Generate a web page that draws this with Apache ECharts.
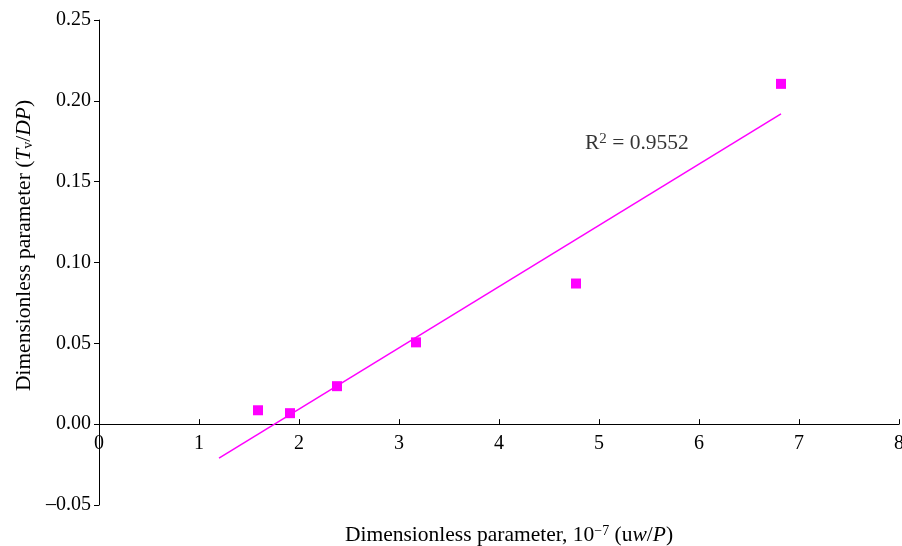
<!DOCTYPE html>
<html>
<head>
<meta charset="utf-8">
<script src="https://cdn.jsdelivr.net/npm/echarts@6/dist/echarts.min.js"></script>
<style>
  html, body { margin: 0; padding: 0; background: #fff; }
  #chart { width: 902px; height: 546px; }
</style>
</head>
<body>
<div id="chart"></div>
<script>
// measured points, x in 10^-7 (uw/P), y = Tv/DP
const xValues = [1.59, 1.91, 2.38, 3.17, 4.77, 6.82];
const yValues = [0.0086, 0.0068, 0.0235, 0.0506, 0.087, 0.2105];
// linear trend line ends
const trendX = [1.2, 6.82];
const trendY = [-0.021, 0.192];
const r2Text = "0.9552";
const r2Pos = [4.86, 0.174];

const FONT = "Liberation Serif";
const MAG = "#ff00ff";

const chart = echarts.init(document.getElementById("chart"));

const option = {
  animation: false,
  backgroundColor: "#fff",
  grid: { left: 99, right: 3, top: 20, bottom: 41, outerBoundsMode: "none", containLabel: false },
  xAxis: {
    type: "value",
    min: 0,
    max: 8,
    interval: 1,
    splitLine: { show: false },
    axisLine: { onZero: true, lineStyle: { color: "#000", width: 1 } },
    axisTick: { inside: true, length: 5, lineStyle: { color: "#000" } },
    // labels sit at the grid bottom in v6, pull them up under the zero line
    axisLabel: { color: "#000", fontFamily: FONT, fontSize: 20, margin: -71 },
    name: "Dimensionless parameter, 10{sup|−7} (u{it|w}/{it|P})",
    nameLocation: "middle",
    nameGap: 19,
    nameMoveOverlap: false,
    nameTextStyle: {
      color: "#000", fontFamily: FONT, fontSize: 21.5,
      padding: [0, 0, 0, 20],
      rich: {
        sup: { fontFamily: FONT, fontSize: 14, verticalAlign: "top", color: "#000", padding: [0, 0, 9, 0] },
        it: { fontFamily: FONT, fontSize: 21.5, fontStyle: "italic", color: "#000" }
      }
    }
  },
  yAxis: {
    type: "value",
    min: -0.05,
    max: 0.25,
    interval: 0.05,
    splitLine: { show: false },
    axisLine: { onZero: false, lineStyle: { color: "#000", width: 1 } },
    axisTick: { length: 5, lineStyle: { color: "#000" } },
    axisLabel: {
      color: "#000", fontFamily: FONT, fontSize: 20, margin: 8,
      formatter: v => (v < 0 ? "–" + Math.abs(v).toFixed(2) : v.toFixed(2))
    },
    name: "Dimensionless parameter ({it|T}{sub|v}/{it|DP})",
    nameLocation: "middle",
    nameGap: 64,
    nameTextStyle: {
      color: "#000", fontFamily: FONT, fontSize: 21.5,
      padding: [0, 0, 0, 34],
      rich: {
        it: { fontFamily: FONT, fontSize: 21.5, fontStyle: "italic", color: "#000" },
        sub: { fontFamily: FONT, fontSize: 14, verticalAlign: "bottom", color: "#000", padding: [7, 0, 0, 0] }
      }
    }
  },
  series: [
    {
      name: "trend",
      type: "line",
      data: trendX.map((x, i) => [x, trendY[i]]),
      symbol: "none",
      lineStyle: { color: MAG, width: 1.5 },
      z: 2
    },
    {
      name: "points",
      type: "scatter",
      data: xValues.map((x, i) => [x, yValues[i]]),
      symbol: "rect",
      symbolSize: 10,
      itemStyle: { color: MAG, opacity: 1 },
      z: 3
    },
    {
      name: "r2",
      type: "scatter",
      data: [r2Pos],
      symbolSize: 0,
      silent: true,
      label: {
        show: true,
        position: "right",
        distance: 0,
        formatter: "R{sup|2} = " + r2Text,
        color: "#000", fontFamily: FONT, fontSize: 21.5,
        rich: {
          sup: { fontFamily: FONT, fontSize: 15, verticalAlign: "top", color: "#000", padding: [0, 0, 8, 0] }
        }
      }
    }
  ]
};

chart.setOption(option);
</script>
</body>
</html>
